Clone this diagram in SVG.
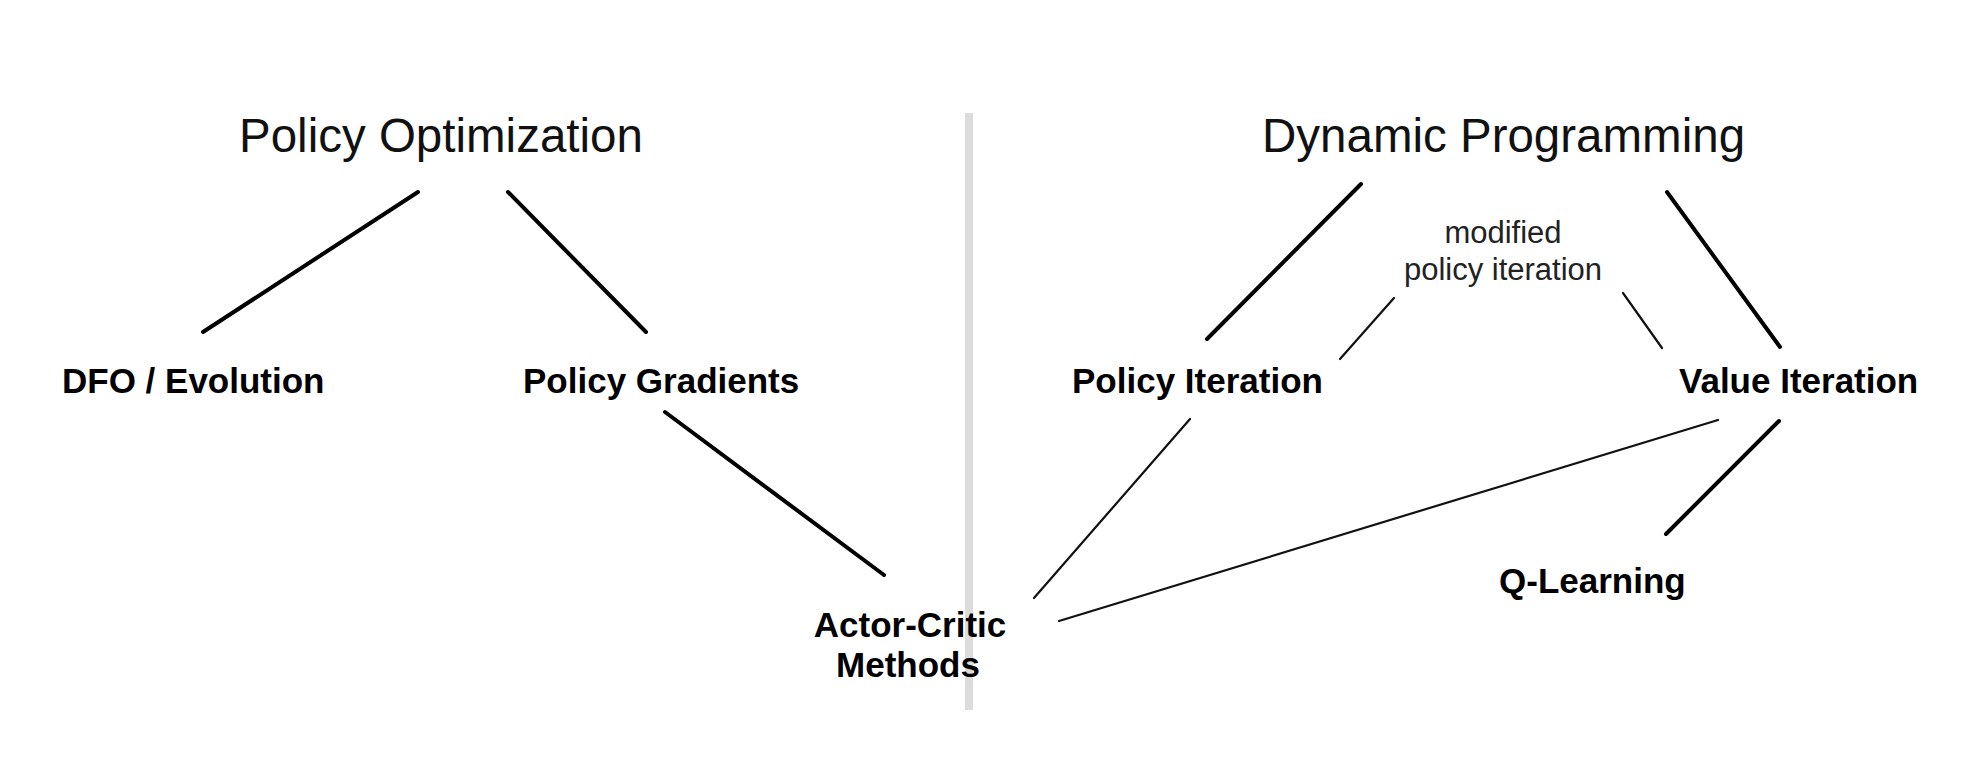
<svg xmlns="http://www.w3.org/2000/svg" width="1978" height="774" viewBox="0 0 1978 774">
<style>
.title{font-family:"Liberation Sans",Arial,Helvetica,sans-serif;font-size:47.5px;fill:#111}
.node{font-family:"Liberation Sans",Arial,Helvetica,sans-serif;font-size:35px;font-weight:bold;fill:#000}
.note{font-family:"Liberation Sans",Arial,Helvetica,sans-serif;font-size:31px;fill:#222}
.thick{stroke:#000;stroke-width:4;stroke-linecap:round;fill:none}
.thin{stroke:#111;stroke-width:2.2;stroke-linecap:round;fill:none}
.divider{stroke:#dcdcdc;stroke-width:8;fill:none}
</style>
<rect width="1978" height="774" fill="#fff"/>
<line class="divider" x1="969" y1="113" x2="969" y2="710"/>
<g id="policy-optimization"><text class="title" x="239" y="152">Policy Optimization</text></g>
<g id="dynamic-programming"><text class="title" x="1262" y="152">Dynamic Programming</text></g>
<g id="dfo-evolution"><text class="node" x="62" y="393">DFO / Evolution</text></g>
<g id="policy-gradients"><text class="node" x="523" y="393">Policy Gradients</text></g>
<g id="policy-iteration"><text class="node" x="1072" y="393">Policy Iteration</text></g>
<g id="value-iteration"><text class="node" x="1679" y="393">Value Iteration</text></g>
<g id="actor-critic"><text class="node" text-anchor="middle" x="910" y="637">Actor-Critic</text><text class="node" text-anchor="middle" x="908" y="677">Methods</text></g>
<g id="q-learning"><text class="node" x="1499" y="593">Q-Learning</text></g>
<g id="modified-policy-iteration"><text class="note" text-anchor="middle" x="1503" y="243">modified</text><text class="note" text-anchor="middle" x="1503" y="280">policy iteration</text></g>
<g id="connectors">
<line class="thick" x1="418" y1="192" x2="203" y2="332"/>
<line class="thick" x1="508" y1="192" x2="646" y2="332"/>
<line class="thick" x1="665" y1="412" x2="884" y2="575"/>
<line class="thick" x1="1361" y1="184" x2="1207" y2="339"/>
<line class="thick" x1="1667" y1="192" x2="1780" y2="347"/>
<line class="thin" x1="1394" y1="298" x2="1340" y2="359"/>
<line class="thin" x1="1623" y1="293" x2="1662" y2="348"/>
<line class="thin" x1="1190" y1="419" x2="1034" y2="598"/>
<line class="thin" x1="1718" y1="420" x2="1059" y2="621"/>
<line class="thick" x1="1779" y1="421" x2="1666" y2="534"/>
</g>
</svg>
